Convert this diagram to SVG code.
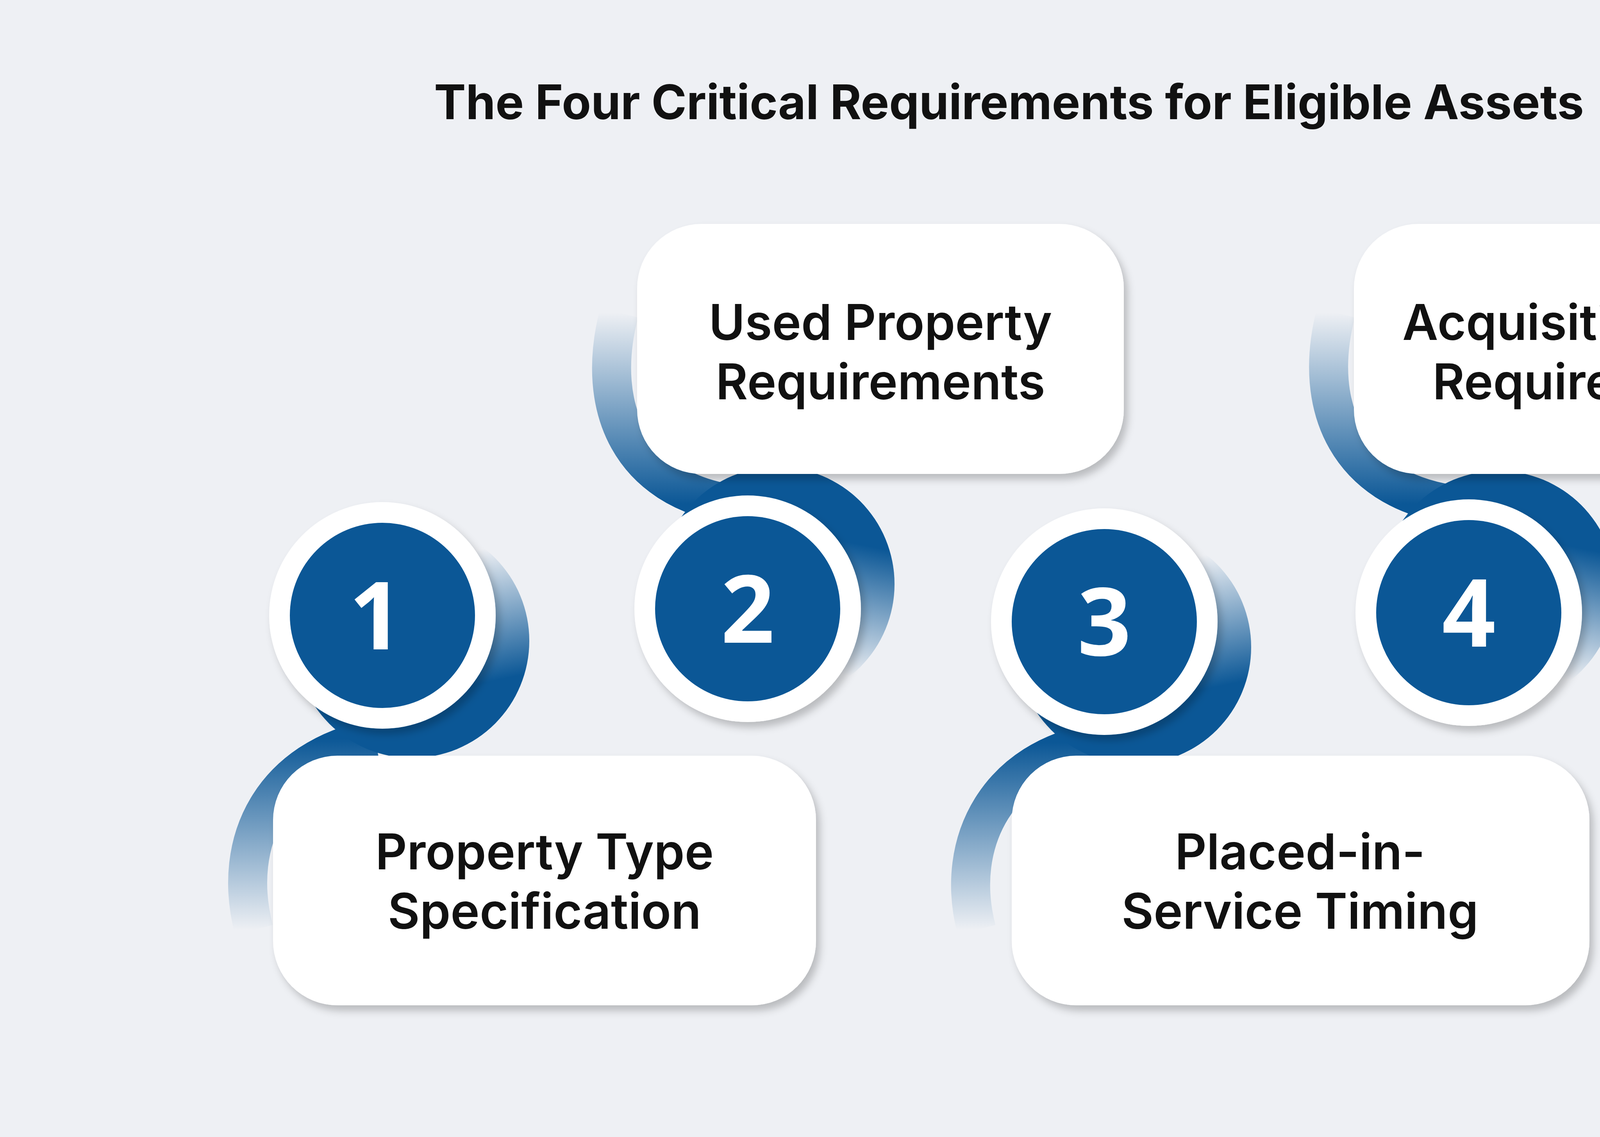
<svg xmlns="http://www.w3.org/2000/svg" width="5166" height="2910" viewBox="0 0 5166 2910">
<defs>
<style>
.box{fill:#fff;filter:url(#sh)}
.lbl{font-family:Inter,"Noto Sans",sans-serif;font-weight:600;font-size:126px;fill:#111;text-anchor:middle}
.num{font-family:"Open Sans","Noto Sans",sans-serif;font-weight:700;font-size:240px;fill:#fff;text-anchor:middle}
.ring{fill:#fff;filter:url(#sh)}
.core{fill:#0b5796}
</style>
<filter id="sh" x="-20%" y="-20%" width="140%" height="140%"><feDropShadow dx="10" dy="14" stdDeviation="10" flood-color="#000" flood-opacity="0.22"/></filter>
<linearGradient id="gDown" x1="0.3" y1="0" x2="0.5" y2="1"><stop offset="0.2" stop-color="#0b5796" stop-opacity="0"/><stop offset="0.75" stop-color="#0b5796"/></linearGradient>
<linearGradient id="gUp" x1="0.3" y1="1" x2="0.5" y2="0"><stop offset="0.2" stop-color="#0b5796" stop-opacity="0"/><stop offset="0.75" stop-color="#0b5796"/></linearGradient>
<linearGradient id="bUp" x1="0" y1="1" x2="0" y2="0"><stop offset="0" stop-color="#0b5796" stop-opacity="0"/><stop offset="1" stop-color="#0b5796"/></linearGradient>
<linearGradient id="bDown" x1="0" y1="0" x2="0" y2="1"><stop offset="0" stop-color="#0b5796" stop-opacity="0"/><stop offset="1" stop-color="#0b5796"/></linearGradient>
</defs>
<rect width="5166" height="2910" fill="#eef0f4"/>
<text x="2583" y="305" font-family="Inter,'Noto Sans',sans-serif" font-weight="700" font-size="122" fill="#111" text-anchor="middle">The Four Critical Requirements for Eligible Assets</text>
<g id="connectors">
<circle cx="1055" cy="1640" r="300" fill="url(#gDown)"/>
<path d="M 650 2380 C 590 2150 700 1940 960 1890" fill="none" stroke="url(#bUp)" stroke-width="100"/>
<circle cx="1990" cy="1495" r="300" fill="url(#gUp)"/>
<path d="M 1585 800 C 1520 1050 1620 1250 1870 1290" fill="none" stroke="url(#bDown)" stroke-width="100"/>
<circle cx="2903" cy="1656" r="300" fill="url(#gDown)"/>
<path d="M 2500 2380 C 2440 2150 2560 1940 2810 1900" fill="none" stroke="url(#bUp)" stroke-width="100"/>
<circle cx="3836" cy="1505" r="300" fill="url(#gUp)"/>
<path d="M 3420 800 C 3355 1050 3460 1250 3710 1290" fill="none" stroke="url(#bDown)" stroke-width="100"/>
</g>
<g id="box1"><rect class="box" x="699" y="1934" width="1390" height="639" rx="165"/><text class="lbl" x="1394" y="2225">Property Type</text><text class="lbl" x="1394" y="2377">Specification</text></g>
<g id="box2"><rect class="box" x="1631" y="573" width="1246" height="640" rx="165"/><text class="lbl" x="2254" y="870">Used Property</text><text class="lbl" x="2254" y="1022">Requirements</text></g>
<g id="box3"><rect class="box" x="2590" y="1934" width="1479" height="639" rx="165"/><text class="lbl" x="3328" y="2225">Placed-in-</text><text class="lbl" x="3328" y="2377">Service Timing</text></g>
<g id="box4"><rect class="box" x="3466" y="573" width="1246" height="640" rx="165"/><text class="lbl" x="4089" y="870">Acquisition Date</text><text class="lbl" x="4089" y="1022">Requirements</text></g>
<g id="n1"><circle class="ring" cx="979" cy="1575" r="290"/><circle class="core" cx="979" cy="1575" r="237"/><text class="num" x="962" y="1662">1</text></g>
<g id="n2"><circle class="ring" cx="1914" cy="1558" r="290"/><circle class="core" cx="1914" cy="1558" r="237"/><text class="num" x="1914" y="1645">2</text></g>
<g id="n3"><circle class="ring" cx="2827" cy="1591" r="290"/><circle class="core" cx="2827" cy="1591" r="237"/><text class="num" x="2827" y="1678">3</text></g>
<g id="n4"><circle class="ring" cx="3760" cy="1568" r="290"/><circle class="core" cx="3760" cy="1568" r="237"/><text class="num" x="3760" y="1655">4</text></g>
</svg>
